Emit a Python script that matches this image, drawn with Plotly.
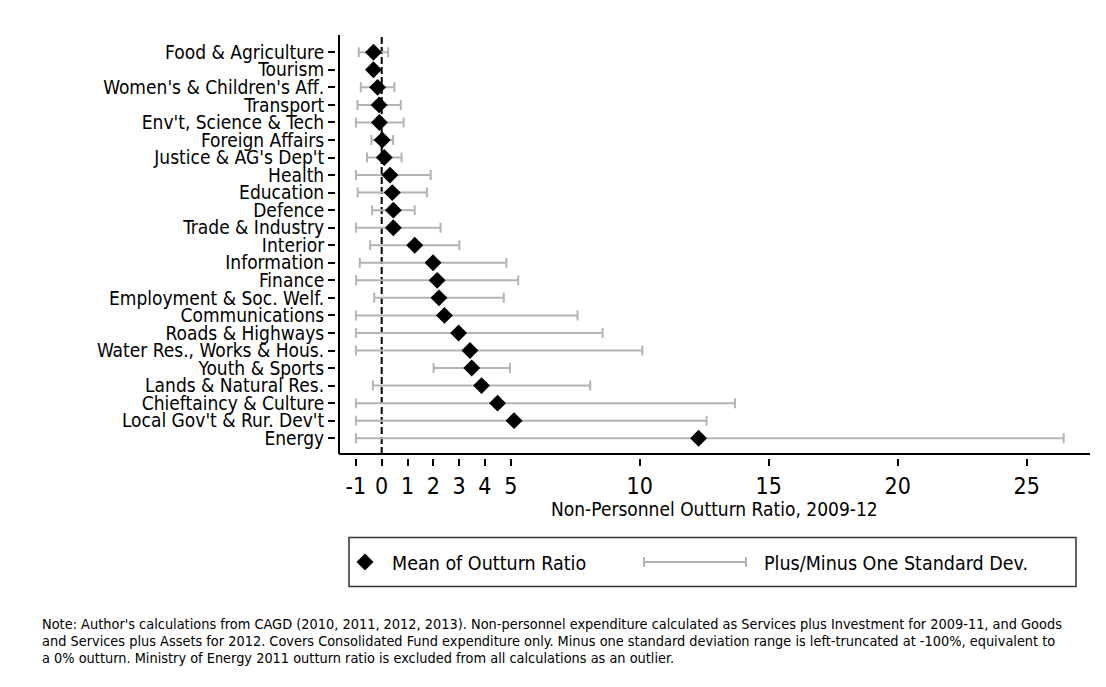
import plotly.graph_objects as go

# Ministries, top to bottom
categories = [
    "Food & Agriculture", "Tourism", "Women's & Children's Aff.", "Transport",
    "Env't, Science & Tech", "Foreign Affairs", "Justice & AG's Dep't", "Health",
    "Education", "Defence", "Trade & Industry", "Interior", "Information",
    "Finance", "Employment & Soc. Welf.", "Communications", "Roads & Highways",
    "Water Res., Works & Hous.", "Youth & Sports", "Lands & Natural Res.",
    "Chieftaincy & Culture", "Local Gov't & Rur. Dev't", "Energy",
]

# Mean outturn ratio per ministry
means = [-0.32, -0.32, -0.16, -0.10, -0.09, 0.02, 0.10, 0.32, 0.41, 0.45, 0.45,
         1.28, 1.99, 2.15, 2.22, 2.43, 2.98, 3.42, 3.49, 3.87, 4.49, 5.13, 12.28]

# Mean minus / plus one standard deviation (lower end truncated at -1)
sd_low = [-0.89, -0.42, -0.81, -0.94, -1.00, -0.40, -0.57, -1.00, -0.93, -0.37, -1.00,
          -0.45, -0.85, -0.99, -0.29, -1.00, -1.00, -1.00, 2.01, -0.34, -1.00, -1.00, -1.00]
sd_high = [0.25, -0.22, 0.49, 0.74, 0.85, 0.44, 0.77, 1.90, 1.75, 1.28, 2.28,
           3.01, 4.83, 5.29, 4.73, 7.59, 8.56, 10.10, 4.97, 8.08, 13.69, 12.59, 26.43]

x_tickvals = [-1, 0, 1, 2, 3, 4, 5, 10, 15, 20, 25]

x_title = "Non-Personnel Outturn Ratio, 2009-12"
legend_mean = "Mean of Outturn Ratio"
legend_sd = "Plus/Minus One Standard Dev."
note_lines = [
    "Note: Author's calculations from CAGD (2010, 2011, 2012, 2013). Non-personnel expenditure calculated as Services plus Investment for 2009-11, and Goods",
    "and Services plus Assets for 2012. Covers Consolidated Fund expenditure only. Minus one standard deviation range is left-truncated at -100%, equivalent to",
    "a 0% outturn. Ministry of Energy 2011 outturn ratio is excluded from all calculations as an outlier.",
]

W, H = 1106, 687
FONT = "DejaVu Sans Condensed, DejaVu Sans, sans-serif"
GREY = "#b4b4b4"


def fx(px):
    return px / W


def fy(py):
    return 1 - py / H


ypos = list(range(len(categories)))
err_plus = [h - m for h, m in zip(sd_high, means)]
err_minus = [m - l for m, l in zip(means, sd_low)]

fig = go.Figure()
fig.add_trace(go.Scatter(
    x=means, y=ypos, mode="markers",
    marker=dict(symbol="diamond", size=13, color="black", line=dict(width=0)),
    error_x=dict(type="data", symmetric=False, array=err_plus, arrayminus=err_minus,
                 color=GREY, thickness=2, width=5),
    showlegend=False, hoverinfo="skip",
))

shapes = [
    # axis lines
    dict(type="line", xref="x domain", yref="y domain", x0=0, x1=0, y0=0, y1=1,
         line=dict(color="black", width=2)),
    dict(type="line", xref="x domain", yref="y domain", x0=0, x1=1, y0=0, y1=0,
         line=dict(color="black", width=2)),
    # reference line at zero
    dict(type="line", xref="x", yref="y domain", x0=0, x1=0, y0=0, y1=1,
         line=dict(color="black", width=2, dash="7px,3px"), layer="below"),
    # legend frame
    dict(type="rect", xref="paper", yref="paper", x0=fx(349), x1=fx(1076),
         y0=fy(586.5), y1=fy(537.5), line=dict(color="#333333", width=1.5)),
    # legend diamond
    dict(type="path", xref="paper", yref="paper",
         path=f"M {fx(365)} {fy(553.5)} L {fx(373.5)} {fy(562)} L {fx(365)} {fy(570.5)} L {fx(356.5)} {fy(562)} Z",
         fillcolor="black", line=dict(width=0)),
    # legend range bar
    dict(type="line", xref="paper", yref="paper", x0=fx(644), x1=fx(746),
         y0=fy(562), y1=fy(562), line=dict(color=GREY, width=2)),
    dict(type="line", xref="paper", yref="paper", x0=fx(644), x1=fx(644),
         y0=fy(557), y1=fy(567), line=dict(color=GREY, width=2)),
    dict(type="line", xref="paper", yref="paper", x0=fx(746), x1=fx(746),
         y0=fy(557), y1=fy(567), line=dict(color=GREY, width=2)),
]

annotations = [
    dict(text=x_title, xref="paper", yref="paper", x=fx(714), y=fy(509),
         xanchor="center", yanchor="middle", showarrow=False,
         font=dict(size=19, color="black", family=FONT)),
    dict(text=legend_mean, xref="paper", yref="paper", x=fx(390), y=fy(563),
         xanchor="left", yanchor="middle", showarrow=False,
         font=dict(size=19.5, color="black", family=FONT)),
    dict(text=legend_sd, xref="paper", yref="paper", x=fx(762), y=fy(563),
         xanchor="left", yanchor="middle", showarrow=False,
         font=dict(size=19.5, color="black", family=FONT)),
]

# footnote, one annotation per line
for i, line in enumerate(note_lines):
    annotations.append(dict(
        text=line, xref="paper", yref="paper", x=fx(40), y=fy(624 + 17 * i),
        xanchor="left", yanchor="middle", align="left", showarrow=False,
        font=dict(size=14.4, color="black", family=FONT)))

fig.update_layout(
    width=W, height=H,
    margin=dict(l=0, r=0, t=0, b=0),
    paper_bgcolor="white", plot_bgcolor="white",
    font=dict(family=FONT, color="black"),
    xaxis=dict(
        domain=[fx(339), fx(1090)], range=[-1.655, 27.45],
        anchor="free", position=fy(458),
        tickmode="array", tickvals=x_tickvals, ticktext=[str(v) for v in x_tickvals],
        ticks="outside", ticklen=7, tickwidth=2, tickcolor="black",
        tickfont=dict(size=23, color="black", family=FONT),
        showline=False, showgrid=False, zeroline=False,
    ),
    yaxis=dict(
        domain=[fy(454), fy(35)], range=[22.9, -0.985],
        anchor="free", position=fx(335),
        tickmode="array", tickvals=ypos, ticktext=categories,
        ticks="outside", ticklen=7, tickwidth=2, tickcolor="black",
        tickfont=dict(size=19, color="black", family=FONT),
        showline=False, showgrid=False, zeroline=False,
    ),
    shapes=shapes,
    annotations=annotations,
)

fig.write_html("out.html")
